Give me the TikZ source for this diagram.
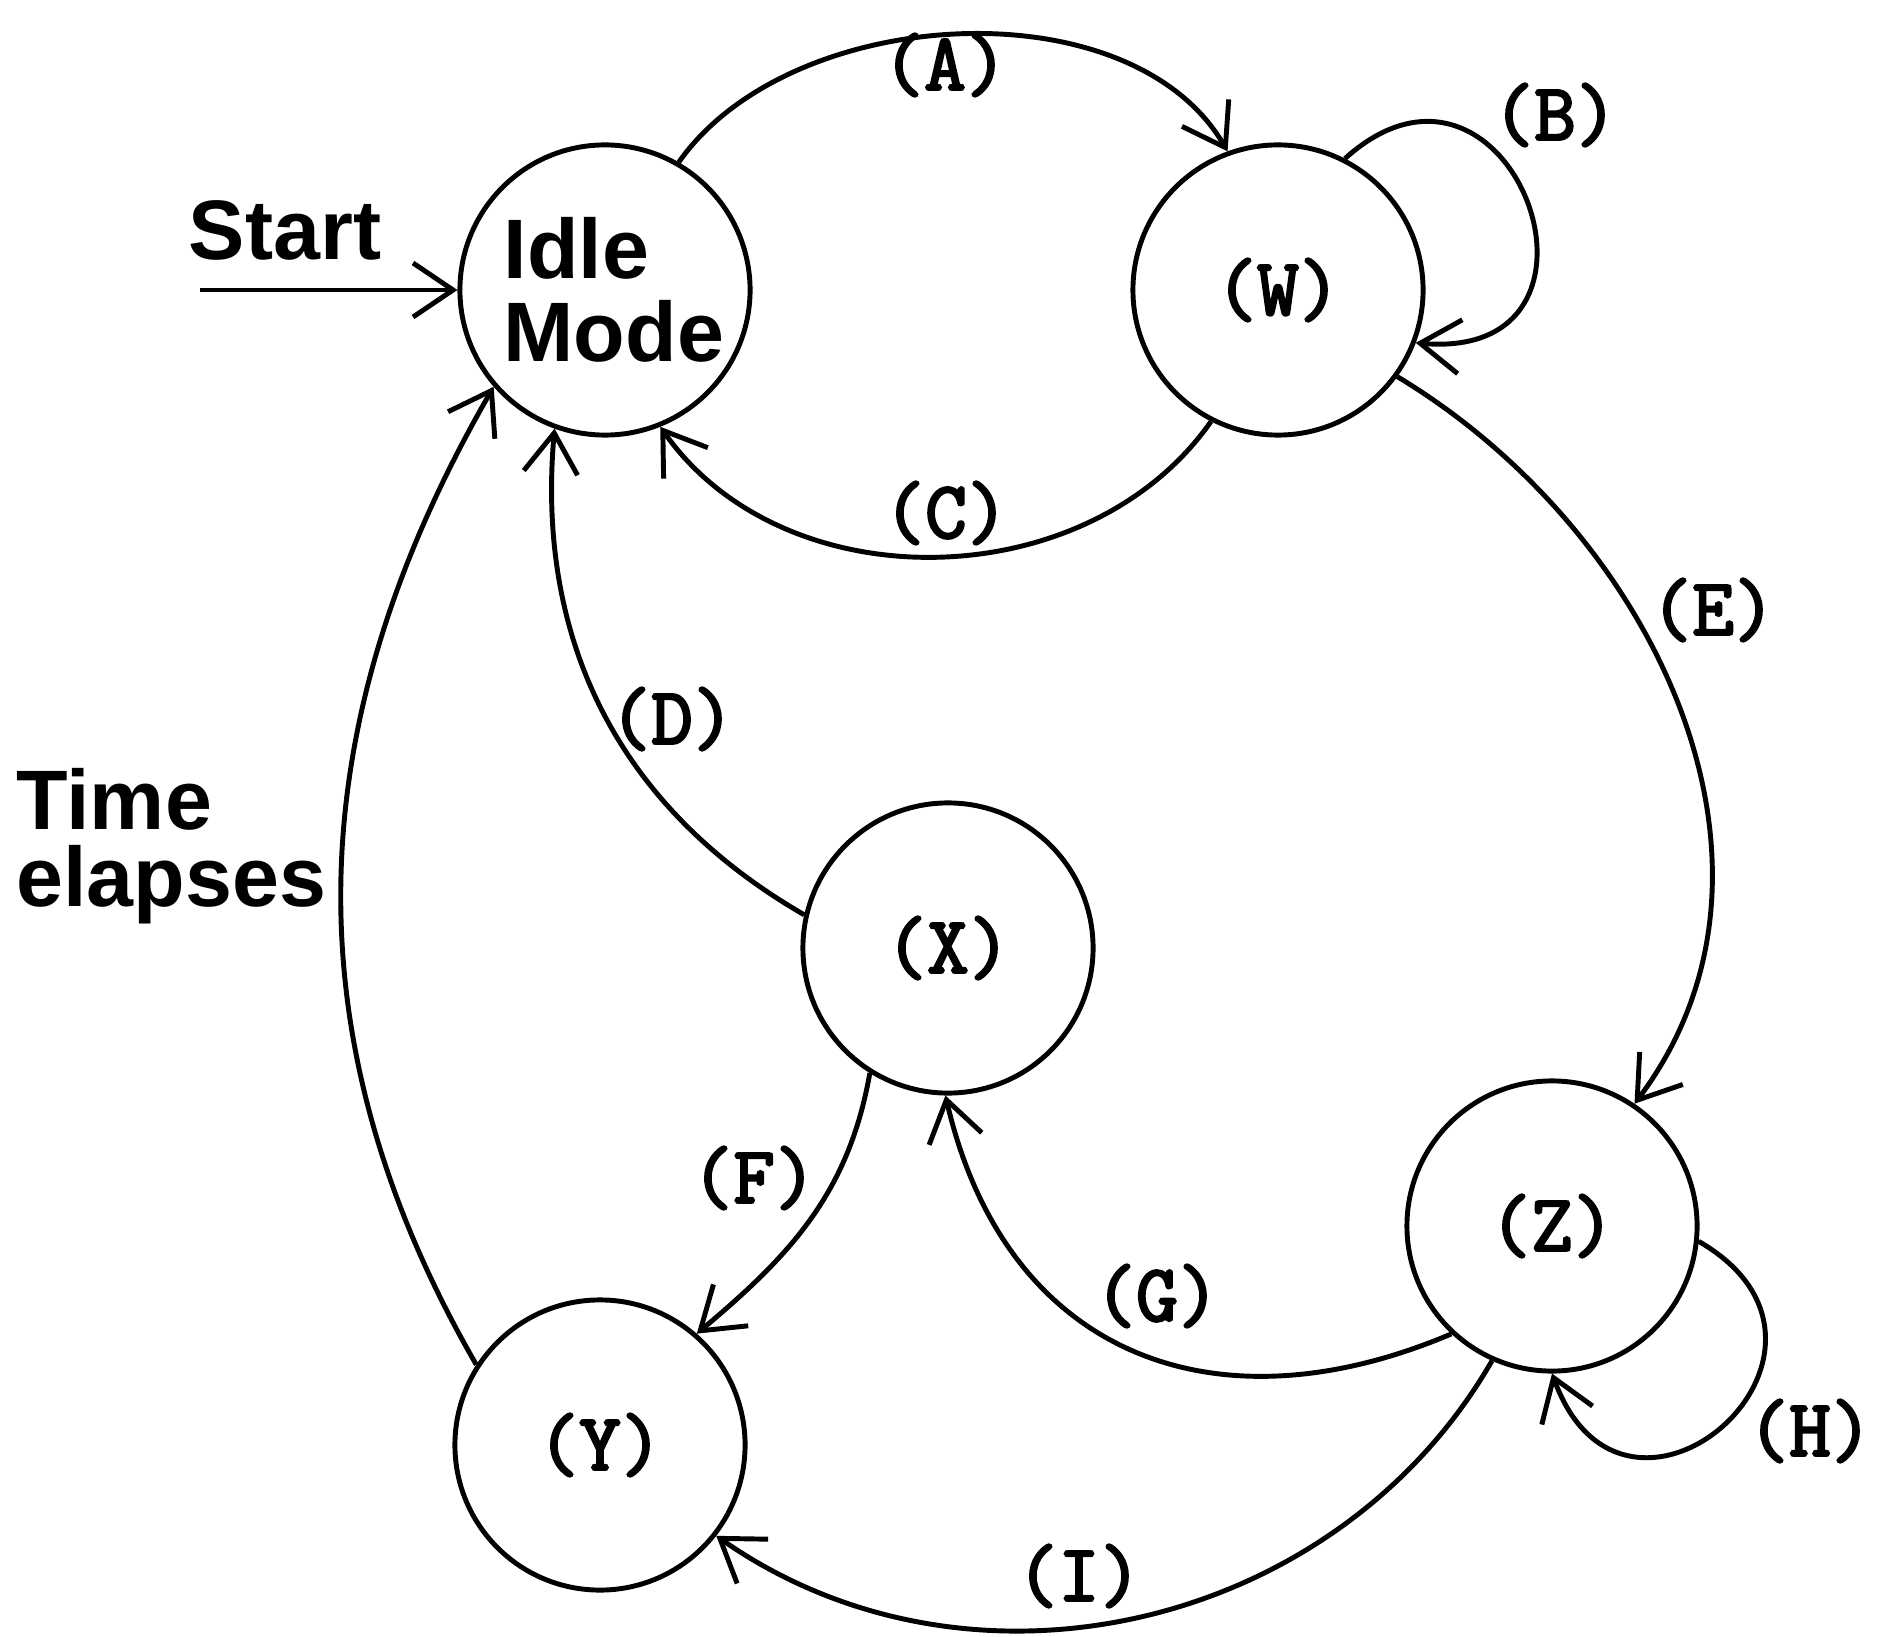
\documentclass[tikz,border=0pt]{standalone}
\usepackage{fontspec}
\setmainfont{Liberation Sans}
\newfontfamily\lblfont{Latin Modern Mono}[FakeBold=3]
\usetikzlibrary{arrows.meta}
\tikzset{>={Straight Barb[length=4mm, width=5.4mm]}}

\begin{document}
\begin{tikzpicture}
    [x=0.01cm, y=0.01cm, line width=1.4pt,
     state/.style={draw, circle, minimum size=2.9cm, inner sep=0pt, align=left,
        font=\bfseries\fontsize{24}{23.5}\selectfont},
     mstate/.style={state, font=\lblfont\fontsize{23}{23}\selectfont},
     lbl/.style={inner sep=0pt, font=\lblfont\fontsize{23}{23}\selectfont},
     txt/.style={inner sep=0pt, align=left, font=\bfseries\fontsize{24}{22}\selectfont}]
    \useasboundingbox (0,0) rectangle (1894,-1637);

    % states
    \node[state] (idle) at (605,-290) {\hspace*{5pt}Idle\\\hspace*{5pt}Mode};
    \node[mstate] (w) at (1278,-290) {(W)};
    \node[mstate] (x) at (948,-948) {(X)};
    \node[mstate] (y) at (600,-1445) {(Y)};
    \node[mstate] (z) at (1552,-1226) {(Z)};

    % free texts
    \node[txt] (start) at (285,-230) {Start};
    \node[txt, anchor=west] (time) at (14,-846) {Time\\elapses};
    \coordinate (s0) at (200,-290);

    % transitions
    \draw[->] (s0) -- (idle);
    \draw[->] (idle.60) to[out=55, in=120, looseness=0.9] (w.110);
    \draw[->] (w.63) to[out=42, in=-5, looseness=2.9] (w.-21);
    \draw[->] (w.243) to[out=235, in=-55] (idle.-68);
    \draw[->] (x.167) to[out=150, in=-95] (idle.-110);
    \draw[->] (w.-36) to[out=-31, in=53] (z.56);
    \draw[->] (x.238) to[out=-100, in=40] (y.49);
    \draw[->] (z.227) to[out=203, in=-77, looseness=1.2] (x.-91);
    \draw[->] (z.-6) to[out=-30, in=-70, looseness=2.8] (z.-90);
    \draw[->] (z.246) to[out=-120, in=-35] (y.-38);
    \draw[->] (y.147) to[out=120, in=-120] (idle.221);

    % labels
    \node[lbl] (la) at (945,-65) {(A)};
    \node[lbl] (lb) at (1555,-115) {(B)};
    \node[lbl] (lc) at (946,-513) {(C)};
    \node[lbl] (ld) at (672,-719) {(D)};
    \node[lbl] (le) at (1713,-610) {(E)};
    \node[lbl] (lf) at (754,-1178) {(F)};
    \node[lbl] (lg) at (1157,-1296) {(G)};
    \node[lbl] (lh) at (1810,-1431) {(H)};
    \node[lbl] (li) at (1079,-1576) {(I)};
\end{tikzpicture}
\end{document}
